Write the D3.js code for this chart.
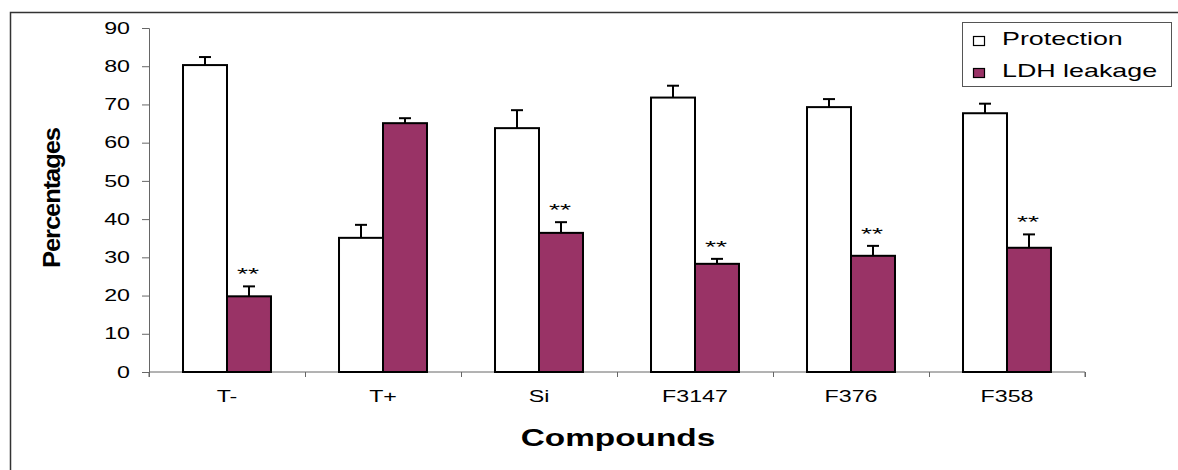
<!DOCTYPE html>
<html>
<head>
<meta charset="utf-8">
<script src="https://cdn.jsdelivr.net/npm/d3@7"></script>
<style>
  body { margin: 0; background: #fff; }
  svg { display: block; font-family: "Liberation Sans", Arial, sans-serif; }
</style>
</head>
<body>
<svg id="chart" width="1178" height="470"></svg>
<script>
const compounds = ["T-", "T+", "Si", "F3147", "F376", "F358"];
const seriesNames = ["Protection", "LDH leakage"];
const protection = [80.3, 35.1, 63.8, 71.8, 69.3, 67.7];
const protectionErr = [2.1, 3.4, 4.7, 3.1, 2.1, 2.5];
const ldh = [19.8, 65.1, 36.4, 28.3, 30.4, 32.5];
const ldhErr = [2.6, 1.3, 2.8, 1.3, 2.6, 3.5];
const ldhSignif = ["**", "", "**", "**", "**", "**"];
const yTicks = [0, 10, 20, 30, 40, 50, 60, 70, 80, 90];

const colors = ["#ffffff", "#993366"];
const stretch = 1.45; // the original picture is wider than it is tall

const svg = d3.select("#chart");
const plotLeft = 149, plotRight = 1085, plotTop = 28, plotBottom = 372;

// build rows from the arrays
const rows = compounds.map((c, i) => ({
  name: c,
  vals: [
    {s: 0, v: protection[i], e: protectionErr[i], mark: ""},
    {s: 1, v: ldh[i], e: ldhErr[i], mark: ldhSignif[i]}
  ]
}));

const x0 = d3.scaleBand().domain(compounds).range([plotLeft, plotRight])
  .paddingInner(0.436).paddingOuter(0.218);
const x1 = d3.scaleBand().domain([0, 1]).range([0, x0.bandwidth()]);
const y = d3.scaleLinear().domain([0, 90]).range([plotBottom, plotTop]);
const xb = d3.scaleLinear().domain([0, compounds.length]).range([plotLeft, plotRight]);

function widen(sel) {
  sel.each(function() {
    const w = this.getComputedTextLength();
    d3.select(this).attr("textLength", w * stretch).attr("lengthAdjust", "spacingAndGlyphs");
  });
}

// outer frame (only left and top visible)
svg.append("path")
  .attr("d", "M10.5,470 V12.5 H1178")
  .attr("fill", "none").attr("stroke", "#333").attr("stroke-width", 1.5);

// y axis
const yAxis = svg.append("g")
  .attr("transform", `translate(${plotLeft},0)`)
  .call(d3.axisLeft(y).tickValues(yTicks).tickSize(7).tickPadding(12));
yAxis.selectAll("path, line").attr("stroke", "#666");
yAxis.selectAll("text").attr("font-size", 16).attr("fill", "#000")
  .attr("font-family", "Liberation Sans, Arial, sans-serif").call(widen);

// x axis: boundary ticks
const xAxisB = svg.append("g")
  .attr("transform", `translate(0,${plotBottom})`)
  .call(d3.axisBottom(xb).ticks(compounds.length).tickSize(5).tickFormat(""));
xAxisB.selectAll("path, line").attr("stroke", "#666");
xAxisB.select("path").attr("d", `M${plotLeft},5V0H${plotRight}V5`);

// x axis: category labels
const xAxisL = svg.append("g")
  .attr("transform", `translate(0,${plotBottom})`)
  .call(d3.axisBottom(x0).tickSize(0).tickPadding(19));
xAxisL.select(".domain").remove();
xAxisL.selectAll("text").attr("font-size", 16).attr("fill", "#000")
  .attr("font-family", "Liberation Sans, Arial, sans-serif").call(widen);

// bars
const groups = svg.append("g").selectAll("g").data(rows).join("g")
  .attr("transform", d => `translate(${x0(d.name)},0)`);

groups.selectAll("rect").data(d => d.vals).join("rect")
  .attr("x", d => x1(d.s))
  .attr("width", x1.bandwidth())
  .attr("y", d => y(d.v))
  .attr("height", d => y(0) - y(d.v))
  .attr("fill", d => colors[d.s])
  .attr("stroke", "#000").attr("stroke-width", 2);

// error bars
const cap = 6;
const err = groups.selectAll("g.err").data(d => d.vals).join("g").attr("class", "err");
err.append("line")
  .attr("x1", d => x1(d.s) + x1.bandwidth() / 2)
  .attr("x2", d => x1(d.s) + x1.bandwidth() / 2)
  .attr("y1", d => y(d.v)).attr("y2", d => y(d.v + d.e))
  .attr("stroke", "#000").attr("stroke-width", 2);
err.append("line")
  .attr("x1", d => x1(d.s) + x1.bandwidth() / 2 - cap)
  .attr("x2", d => x1(d.s) + x1.bandwidth() / 2 + cap)
  .attr("y1", d => y(d.v + d.e)).attr("y2", d => y(d.v + d.e))
  .attr("stroke", "#000").attr("stroke-width", 2);

// significance marks
groups.selectAll("text.sig").data(d => d.vals.filter(v => v.mark)).join("text")
  .attr("class", "sig")
  .attr("x", d => x1(d.s) + x1.bandwidth() / 2 - 1)
  .attr("y", d => y(d.v + d.e) - 6)
  .attr("text-anchor", "middle")
  .attr("font-size", 16)
  .text(d => d.mark)
  .attr("textLength", 22).attr("lengthAdjust", "spacingAndGlyphs");

// axis titles
svg.append("text")
  .attr("x", (plotLeft + plotRight) / 2 + 1).attr("y", 446)
  .attr("text-anchor", "middle")
  .attr("font-size", 23).attr("font-weight", "bold")
  .text("Compounds").call(widen);

svg.append("text")
  .attr("transform", "translate(60,198) rotate(-90)")
  .attr("text-anchor", "middle")
  .attr("font-size", 23).attr("font-weight", "bold")
  .attr("letter-spacing", -1)
  .attr("textLength", 140).attr("lengthAdjust", "spacingAndGlyphs")
  .text("Percentages");

// legend
const legend = svg.append("g").attr("transform", "translate(962,22)");
legend.append("rect")
  .attr("x", 0.5).attr("y", 0.5).attr("width", 209).attr("height", 64)
  .attr("fill", "#fff").attr("stroke", "#555").attr("stroke-width", 1);
const items = legend.selectAll("g.item").data(seriesNames).join("g")
  .attr("class", "item")
  .attr("transform", (d, i) => `translate(0,${i * 32})`);
items.append("rect")
  .attr("x", 11.5).attr("y", 14.5).attr("width", 11).attr("height", 9)
  .attr("fill", (d, i) => colors[i]).attr("stroke", "#000").attr("stroke-width", 1.2);
items.append("text")
  .attr("x", 40).attr("y", 23)
  .attr("font-size", 18.5)
  .text(d => d).call(widen);
</script>
</body>
</html>
